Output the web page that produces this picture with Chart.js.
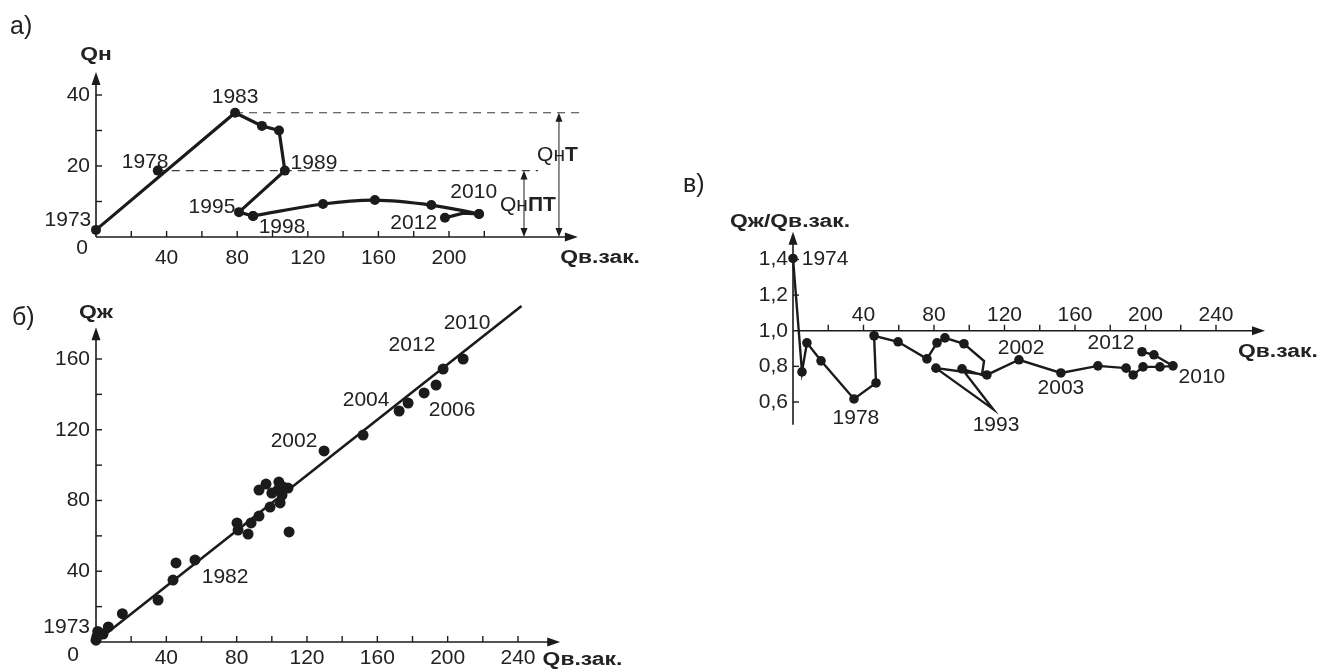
<!DOCTYPE html>
<html lang="ru">
<head>
<meta charset="utf-8">
<title>Qн, Qж, Qж/Qв.зак.</title>
<script src="https://cdn.jsdelivr.net/npm/chart.js@4.4.1/dist/chart.umd.min.js"></script>
<style>
  html, body { margin: 0; padding: 0; background: #fff; }
  body { width: 1319px; height: 671px; position: relative; overflow: hidden; }
  canvas { position: absolute; }
</style>
</head>
<body>
<canvas id="chA" width="660" height="280" style="left:0;top:0"></canvas>
<canvas id="chB" width="660" height="391" style="left:0;top:280px"></canvas>
<canvas id="chC" width="659" height="300" style="left:660px;top:150px"></canvas>
<script>
// ---------- а) Qн against Qв.зак. ----------
const aPathX  = [0, 78.8, 94, 103.7, 107, 81, 89];
const aPathY  = [2.0, 35.0, 31.3, 30.0, 18.7, 7.0, 5.9];
const aCurveX = [89, 128.6, 158, 190, 217];
const aCurveY = [5.9, 9.3, 10.4, 9.0, 6.5];
const aTailX  = [217, 208, 197.7];
const aTailY  = [6.5, 6.7, 5.4];
const a1978X  = [35];
const a1978Y  = [18.7];
const aLevelT  = 35.0;   // Qн T
const aLevelPT = 18.7;   // Qн ПТ
const aXTicks = [40, 80, 120, 160, 200];
const aYTicks = [20, 40];
const aXMarks = [20, 40, 60, 80, 100, 120, 140, 160, 180, 200, 220];
const aYMarks = [10, 20, 30, 40];
const aYears  = ['1973', '1978', '1983', '1989', '1995', '1998', '2010', '2012'];
const aYearX  = [-15.9, 27.8, 78.8, 123.5, 65.7, 105.4, 214, 180];
const aYearY  = [4.8, 21.1, 39.3, 20.8, 8.5, 2.8, 12.7, 3.9];

// ---------- б) Qж against Qв.зак. ----------
const bX = [0, 0.5, 1, 4, 7, 15, 35.3, 43.8, 45.5, 56.3,
            80.2, 80.8, 86.5, 88.2, 92.7, 99, 104.7, 105.8, 100, 104,
            92.7, 96.7, 109.2, 109.8, 106.4, 103.5,
            129.7, 151.9, 172.4, 177.5, 186.6, 193.4, 197.4, 197.4, 206, 208.8, 213.9];
const bY = [1, 3, 6, 4.5, 8.5, 16, 23.7, 35, 44.7, 46.4,
            67.3, 63.3, 61, 67.3, 71.2, 76.3, 78.6, 83.1, 84.2, 90.4,
            85.9, 89.3, 87, 62.2, 87.6, 86,
            108, 117, 130.6, 135.1, 140.8, 145.3, 154.3, 163.4, 166.8, 160, 167.3];
const bFitX = [1, 242];
const bFitY = [1, 190];
const bXTicks = [40, 80, 120, 160, 200, 240];
const bYTicks = [40, 80, 120, 160];
const bXMarks = [20, 40, 60, 80, 100, 120, 140, 160, 180, 200, 220, 240];
const bYMarks = [20, 40, 60, 80, 100, 120, 140, 160];
const bYears  = ['1982', '2002', '2004', '2006', '2012', '2010'];
const bYearX  = [73.4, 112.6, 153.6, 202.5, 179.7, 211];
const bYearY  = [36.7, 113.6, 136.8, 131.1, 167.9, 180.3];

// ---------- в) Qж/Qв.зак. against Qв.зак. ----------
const cX = [0, 5.1, 7.9, 15.9, 34.6, 47.1, 46, 59.6, 76, 81.7, 86.2, 97,
            108.4, 107.2, 95.9, 113.5, 81.1, 110,
            128.2, 152, 173, 189, 193, 198.6, 208.2, 215.6, 204.8, 198];
const cY = [1.406, 0.769, 0.932, 0.831, 0.617, 0.707, 0.972, 0.938, 0.842, 0.932, 0.96, 0.927,
            0.83, 0.752, 0.786, 0.56, 0.79, 0.752,
            0.837, 0.763, 0.803, 0.79, 0.752, 0.797, 0.797, 0.803, 0.865, 0.882];
const cBends = [12, 13];           // vertices without a marker
const cXTicks = [40, 80, 120, 160, 200, 240];
const cYTicks = [0.6, 0.8, 1.0, 1.2, 1.4];
const cYTickText = ['0,6', '0,8', '1,0', '1,2', '1,4'];
const cXMarks = [20, 40, 60, 80, 100, 120, 140, 160, 180, 200, 220, 240];
const cYMarks = [0.6, 0.8, 1.2, 1.4];
const cYears  = ['1974', '1978', '1993', '2002', '2003', '2012', '2010'];
const cYearX  = [18.2, 35.7, 115.2, 129.4, 152, 180.4, 232];
const cYearY  = [1.4, 0.51, 0.47, 0.904, 0.68, 0.932, 0.74];

// ---------- shared drawing helpers ----------
const FONT = '"Liberation Sans", Arial, sans-serif';
const INK = '#1b1b1b';
const TICK_FONT = '21px ' + FONT;
const PANEL_FONT = '25px ' + FONT;
const TITLE_SIZE = 18;
const TITLE_STRETCH = 1.27;

const pts = (xs, ys) => xs.map((x, i) => ({ x, y: ys[i] }));

function seg(ctx, x1, y1, x2, y2) {
  ctx.beginPath(); ctx.moveTo(x1, y1); ctx.lineTo(x2, y2); ctx.stroke();
}
function tip(ctx, x, y, dx, dy, len, half) {
  const nx = -dy, ny = dx;
  ctx.beginPath();
  ctx.moveTo(x, y);
  ctx.lineTo(x - dx * len + nx * half, y - dy * len + ny * half);
  ctx.lineTo(x - dx * len - nx * half, y - dy * len - ny * half);
  ctx.closePath(); ctx.fill();
}
function label(ctx, s, x, y, align, font) {
  ctx.font = font; ctx.textAlign = align; ctx.textBaseline = 'middle';
  ctx.fillText(s, x, y);
}
// bold axis titles, set in a wide face
function title(ctx, s, x, y, align) {
  ctx.save();
  ctx.font = 'bold ' + TITLE_SIZE + 'px ' + FONT;
  ctx.textAlign = 'left'; ctx.textBaseline = 'middle';
  const w = ctx.measureText(s).width * TITLE_STRETCH;
  const left = align === 'center' ? x - w / 2 : align === 'right' ? x - w : x;
  ctx.translate(left, y); ctx.scale(TITLE_STRETCH, 1);
  ctx.fillText(s, 0, 0);
  ctx.restore();
}
function scalesOf(chart) {
  const sx = chart.scales.x, sy = chart.scales.y;
  return [v => sx.getPixelForValue(v), v => sy.getPixelForValue(v)];
}
// axes crossing at (0, yCross), arrows at xTip / yTip, tick marks pointing up / right
function drawAxes(ctx, X, Y, o) {
  ctx.strokeStyle = INK; ctx.fillStyle = INK; ctx.lineWidth = 1.6;
  const ox = X(0), oy = Y(o.yCross);
  seg(ctx, ox, oy, X(o.xTip) - 8, oy);
  tip(ctx, X(o.xTip), oy, 1, 0, 13, 4.5);
  seg(ctx, ox, Y(o.yLow), ox, Y(o.yTip) + 8);
  tip(ctx, ox, Y(o.yTip), 0, -1, 13, 4.5);
  ctx.lineWidth = 1.4;
  o.xMarks.forEach(v => seg(ctx, X(v), oy, X(v), oy - 6));
  o.yMarks.forEach(v => seg(ctx, ox, Y(v), ox + 6, Y(v)));
}
function doubleArrow(ctx, x, yTop, yBot) {
  ctx.lineWidth = 1;
  seg(ctx, x, yTop + 6, x, yBot - 6);
  tip(ctx, x, yTop, 0, -1, 9, 3.5);
  tip(ctx, x, yBot, 0, 1, 9, 3.5);
}
function mixedLabel(ctx, plain, bold, x, y, size) {
  ctx.textAlign = 'left'; ctx.textBaseline = 'middle';
  ctx.font = size + 'px ' + FONT;
  ctx.fillText(plain, x, y);
  const w = ctx.measureText(plain).width;
  ctx.font = 'bold ' + size + 'px ' + FONT;
  ctx.fillText(bold, x + w, y);
}

function baseOptions(pad, xr, yr) {
  return {
    responsive: false,
    animation: false,
    events: [],
    layout: { padding: pad },
    plugins: { legend: { display: false }, tooltip: { enabled: false } },
    scales: {
      x: { type: 'linear', display: false, min: xr[0], max: xr[1] },
      y: { type: 'linear', display: false, min: yr[0], max: yr[1] }
    }
  };
}
const lineSet = (data, width, radius, tension) => ({
  data, showLine: true, borderColor: INK, borderWidth: width, tension: tension || 0,
  pointRadius: radius, pointBackgroundColor: INK, pointBorderWidth: 0, clip: false
});

// ---------- а) ----------
const decorA = {
  id: 'decorA',
  beforeDatasetsDraw(chart) {
    const { ctx } = chart; const [X, Y] = scalesOf(chart);
    ctx.save();
    drawAxes(ctx, X, Y, { yCross: 0, xTip: 273, yTip: 46.5, yLow: 0, xMarks: aXMarks, yMarks: aYMarks });
    ctx.strokeStyle = '#3a3a3a'; ctx.lineWidth = 1.2; ctx.setLineDash([8, 6]);
    seg(ctx, X(aPathX[1]), Y(aLevelT), X(276), Y(aLevelT));
    seg(ctx, X(a1978X[0]), Y(aLevelPT), X(250.4), Y(aLevelPT));
    ctx.setLineDash([]);
    ctx.strokeStyle = INK; ctx.fillStyle = INK;
    doubleArrow(ctx, X(262.3), Y(aLevelT), Y(0));
    doubleArrow(ctx, X(242.5), Y(aLevelPT), Y(0));
    ctx.restore();
  },
  afterDatasetsDraw(chart) {
    const { ctx } = chart; const [X, Y] = scalesOf(chart);
    ctx.save(); ctx.fillStyle = '#222';
    aXTicks.forEach(v => label(ctx, String(v), X(v), Y(0) + 21, 'center', TICK_FONT));
    aYTicks.forEach(v => label(ctx, String(v), X(0) - 6, Y(v), 'right', TICK_FONT));
    label(ctx, '0', X(0) - 8, Y(0) + 11, 'right', TICK_FONT);
    aYears.forEach((s, i) => label(ctx, s, X(aYearX[i]), Y(aYearY[i]), 'center', TICK_FONT));
    title(ctx, 'Qн', X(0), Y(46.5) - 17, 'center');
    title(ctx, 'Qв.зак.', X(263), Y(0) + 21, 'left');
    mixedLabel(ctx, 'Qн', 'T', X(249.9), Y(23.1), 21);
    mixedLabel(ctx, 'Qн', 'ПТ', X(228.9), Y(9.0), 21);
    label(ctx, 'а)', 10, 27, 'left', PANEL_FONT);
    ctx.restore();
  }
};
new Chart(document.getElementById('chA'), {
  type: 'scatter',
  data: { datasets: [
    lineSet(pts(aPathX, aPathY), 3.2, 5),
    lineSet(pts(aCurveX, aCurveY), 3.2, 5, 0.35),
    lineSet(pts(aTailX, aTailY), 3.2, [5, 0, 5]),
    { data: pts(a1978X, a1978Y), pointRadius: 5, pointBackgroundColor: INK, pointBorderWidth: 0, clip: false }
  ] },
  options: baseOptions({ left: 96, top: 95, right: 87.45, bottom: 43 }, [0, 270], [0, 40]),
  plugins: [decorA]
});

// ---------- б) ----------
const decorB = {
  id: 'decorB',
  beforeDatasetsDraw(chart) {
    const { ctx } = chart; const [X, Y] = scalesOf(chart);
    ctx.save();
    drawAxes(ctx, X, Y, { yCross: 0, xTip: 264, yTip: 178, yLow: 0, xMarks: bXMarks, yMarks: bYMarks });
    ctx.restore();
  },
  afterDatasetsDraw(chart) {
    const { ctx } = chart; const [X, Y] = scalesOf(chart);
    ctx.save(); ctx.fillStyle = '#222';
    bXTicks.forEach(v => label(ctx, String(v), X(v), Y(0) + 16, 'center', TICK_FONT));
    bYTicks.forEach(v => label(ctx, String(v), X(0) - 6, Y(v), 'right', TICK_FONT));
    label(ctx, '0', X(0) - 17, Y(0) + 13, 'right', TICK_FONT);
    label(ctx, '1973', X(0) - 6, Y(8.5), 'right', TICK_FONT);
    bYears.forEach((s, i) => label(ctx, s, X(bYearX[i]), Y(bYearY[i]), 'center', TICK_FONT));
    title(ctx, 'Qж', X(0), Y(178) - 14, 'center');
    title(ctx, 'Qв.зак.', X(254), Y(0) + 18, 'left');
    label(ctx, 'б)', 12, 38, 'left', PANEL_FONT);
    ctx.restore();
  }
};
new Chart(document.getElementById('chB'), {
  type: 'scatter',
  data: { datasets: [
    lineSet(pts(bFitX, bFitY), 2.6, 0),
    { data: pts(bX, bY), pointRadius: 5.5, pointBackgroundColor: INK, pointBorderWidth: 0, clip: false }
  ] },
  options: baseOptions({ left: 96, top: 79, right: 142, bottom: 29 }, [0, 240], [0, 160]),
  plugins: [decorB]
});

// ---------- в) ----------
const decorC = {
  id: 'decorC',
  beforeDatasetsDraw(chart) {
    const { ctx } = chart; const [X, Y] = scalesOf(chart);
    ctx.save();
    drawAxes(ctx, X, Y, { yCross: 1.0, xTip: 267.8, yTip: 1.556, yLow: 0.472, xMarks: cXMarks, yMarks: cYMarks });
    ctx.restore();
  },
  afterDatasetsDraw(chart) {
    const { ctx } = chart; const [X, Y] = scalesOf(chart);
    ctx.save(); ctx.fillStyle = '#222';
    cXTicks.forEach(v => label(ctx, String(v), X(v), Y(1.0) - 16, 'center', TICK_FONT));
    cYTicks.forEach((v, i) => label(ctx, cYTickText[i], X(0) - 5, Y(v), 'right', TICK_FONT));
    cYears.forEach((s, i) => label(ctx, s, X(cYearX[i]), Y(cYearY[i]), 'center', TICK_FONT));
    title(ctx, 'Qж/Qв.зак.', X(0) - 3, Y(1.556) - 10, 'center');
    title(ctx, 'Qв.зак.', X(252.5), Y(1.0) + 21, 'left');
    label(ctx, 'в)', 23, 35, 'left', PANEL_FONT);
    ctx.restore();
  }
};
new Chart(document.getElementById('chC'), {
  type: 'scatter',
  data: { datasets: [
    lineSet(pts(cX, cY), 2.4, cX.map((_, i) => cBends.includes(i) ? 0 : 4.8))
  ] },
  options: baseOptions({ left: 133, top: 109.5, right: 103, bottom: 48 }, [0, 240], [0.6, 1.4]),
  plugins: [decorC]
});
</script>
</body>
</html>
